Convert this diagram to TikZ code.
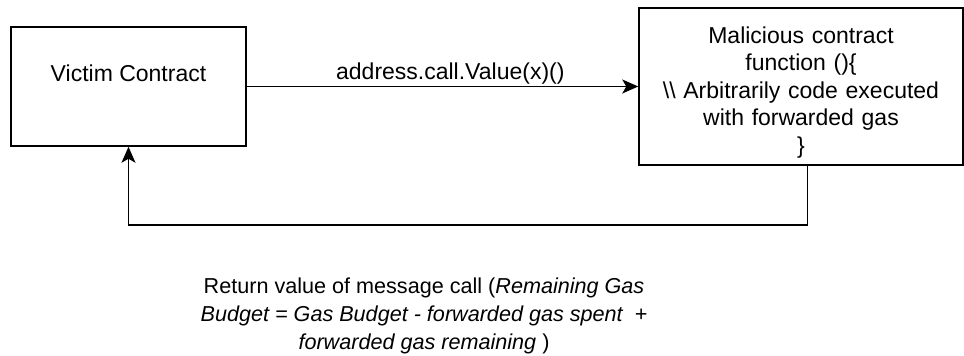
\documentclass[tikz,border=0pt]{standalone}
\usepackage{fontspec}
\setmainfont{Liberation Sans}
\usetikzlibrary{arrows.meta,positioning}

\begin{document}
\begin{tikzpicture}[x=1pt,y=-1pt,line width=1.5pt,
  font=\fontsize{23}{27.5}\selectfont]
\tikzstyle{caja}=[draw=black,fill=white,line width=1.5pt,inner xsep=0pt,inner ysep=0pt]
\tikzstyle{flecha}=[draw=black,line width=1.5pt,-{Stealth[length=16pt,width=14pt,inset=4pt]}]
\useasboundingbox (0,0) rectangle (964,356);

% Contratos
\node[caja,minimum width=235pt,text height=54.5pt,text depth=64.5pt] (victim) at (128.5,86.5) {Victim Contract};
\node[caja,minimum width=324pt,minimum height=157pt,text width=320pt,align=center] (mal) at (801,86.5)
  {\rule{0pt}{28pt}Malicious contract\\ function ()\{\\ \textbackslash\textbackslash\ Arbitrarily code executed\\ with forwarded gas\\ \}};

% Llamada
\path
(victim.east) edge[flecha] node[above=1pt,pos=0.52,inner sep=0pt] {address.call.Value(x)()} (mal.west);

% Retorno
\draw[flecha] ([xshift=6.5pt]mal.south) -- ++(0,59) -| (victim.south);
\node[align=center,inner sep=0pt,font=\fontsize{21.6}{28}\selectfont] (retorno) at (424,316)
  {Return value of message call (\textit{Remaining Gas}\\
   \textit{Budget = Gas Budget - forwarded gas spent \ +}\\
   \textit{forwarded gas remaining} )};
\end{tikzpicture}
\end{document}
